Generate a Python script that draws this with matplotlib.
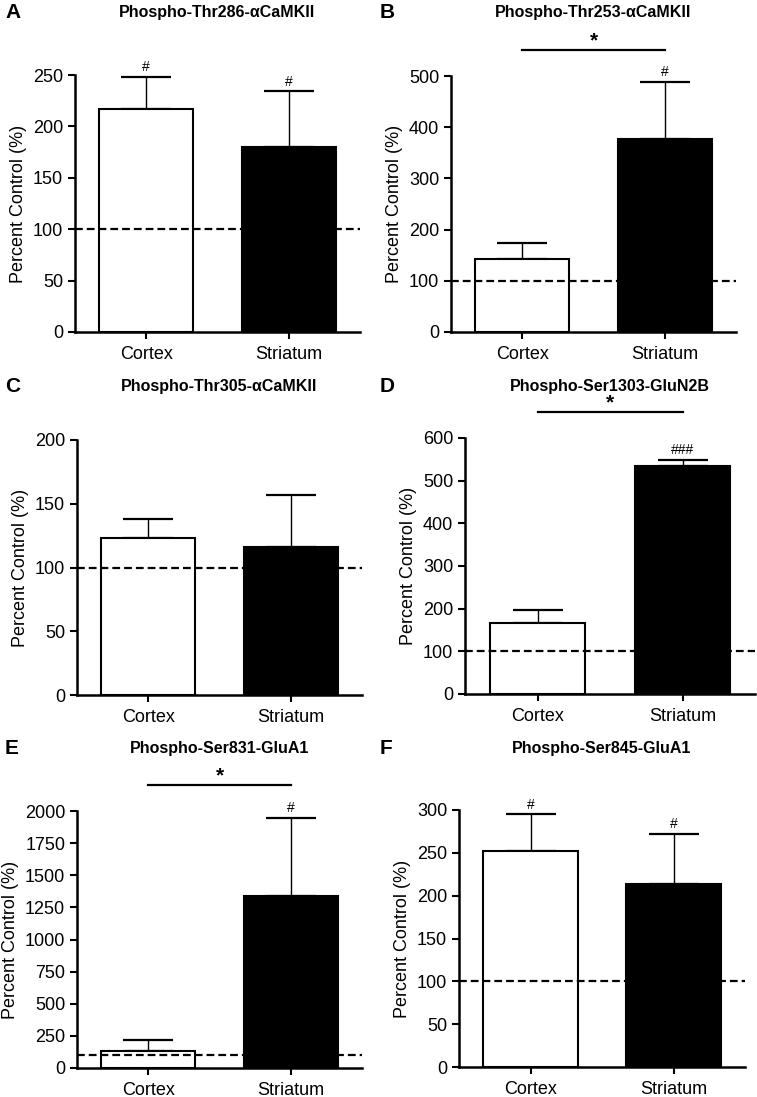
import matplotlib
matplotlib.use("Agg")
import matplotlib.pyplot as plt

plt.rcParams['font.family'] = ['Liberation Sans', 'DejaVu Sans']

groups = ['Cortex', 'Striatum']

# panel letters, titles, means, upper error ends, y limits, markers
letters = ['A', 'B', 'C', 'D', 'E', 'F']
titles = ['Phospho-Thr286-\u03b1CaMKII', 'Phospho-Thr253-\u03b1CaMKII',
          'Phospho-Thr305-\u03b1CaMKII', 'Phospho-Ser1303-GluN2B',
          'Phospho-Ser831-GluA1', 'Phospho-Ser845-GluA1']
means_A = [217, 180]
sem_A = [31, 54]
means_B = [143, 376]
sem_B = [31, 112]
means_C = [123, 116]
sem_C = [15, 41]
means_D = [167, 535]
sem_D = [29, 14]
means_E = [130, 1335]
sem_E = [90, 610]
means_F = [252, 214]
sem_F = [43, 58]
means = [means_A, means_B, means_C, means_D, means_E, means_F]
sems = [sem_A, sem_B, sem_C, sem_D, sem_E, sem_F]
ymax = [250, 500, 200, 600, 2000, 300]
ystep = [50, 100, 50, 100, 250, 50]
hash_marks = [['#', '#'], ['', '#'], ['', ''], ['', '###'], ['', '#'], ['#', '#']]
star = [False, True, False, True, True, False]

# axes boxes in pixels: left, right, top, bottom
W, H = 757, 1097
boxes = [(75, 360, 75, 332), (451, 736, 76, 332),
         (77, 362, 440, 695), (465, 755, 438, 694),
         (77, 362, 811, 1068), (459, 745, 810, 1067)]

fig = plt.figure(figsize=(W / 100, H / 100), dpi=100)

for i in range(6):
    l, r, t, b = boxes[i]
    ax = fig.add_axes([l / W, 1 - b / H, (r - l) / W, (b - t) / H])
    x = [0, 1]
    ax.errorbar(x, means[i], yerr=[[0, 0], sems[i]], fmt='none', ecolor='black',
                elinewidth=1.0, capsize=18, capthick=1.6, zorder=1)
    ax.bar(x, means[i], width=0.66, color=['white', 'black'], edgecolor='black',
           linewidth=1.5, zorder=2)
    ax.axhline(100, color='black', linestyle=(0, (3.5, 1.8)), linewidth=1.6, zorder=3)
    ax.set_xlim(-0.5, 1.5)
    ax.set_ylim(0, ymax[i])
    ax.set_yticks(range(0, ymax[i] + 1, ystep[i]))
    ax.set_xticks(x)
    ax.set_xticklabels(groups)
    ax.spines['top'].set_visible(False)
    ax.spines['right'].set_visible(False)
    ax.spines['left'].set_linewidth(1.8)
    ax.spines['bottom'].set_linewidth(1.8)
    ax.tick_params(axis='both', width=1.5, length=5, labelsize=13)
    ax.tick_params(axis='x', pad=5)
    ax.set_ylabel('Percent Control (%)', fontsize=13)
    for j in range(2):
        if hash_marks[i][j]:
            ax.annotate(hash_marks[i][j], (x[j], means[i][j] + sems[i][j]),
                        xytext=(0, 2), textcoords='offset points',
                        ha='center', va='bottom', fontsize=10,
                        annotation_clip=False)
    if star[i]:
        yb = ymax[i] * 1.1
        ax.plot([0, 1], [yb, yb], color='black', linewidth=1.6, clip_on=False)
        ax.annotate('*', (0.5, yb), xytext=(0, 0), textcoords='offset points',
                    ha='center', va='bottom', fontsize=15, fontweight='bold',
                    annotation_clip=False)
    cx = (l + r) / 2
    ty = [12, 12, 387, 387, 748, 748][i]
    fig.text(cx / W, 1 - ty / H, titles[i], ha='center', va='center',
             fontsize=11.5, fontweight='bold')
    lx = 5 if i % 2 == 0 else 380
    fig.text(lx / W, 1 - ty / H, letters[i], ha='left', va='center',
             fontsize=15, fontweight='bold')

fig.savefig('out.png', dpi=100)
